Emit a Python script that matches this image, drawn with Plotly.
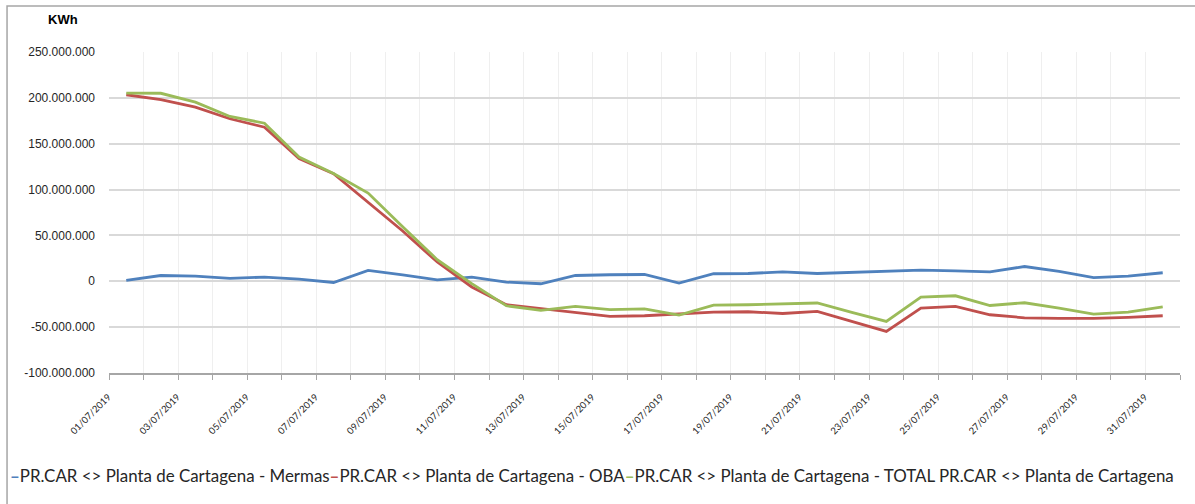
import plotly.graph_objects as go

# dates shown on the category axis
dates = [f"{d:02d}/07/2019" for d in range(1, 32)]

# KWh values
mermas = [
    0.9e6, 6.3e6, 5.7e6, 3.1e6, 4.6e6, 2.4e6, -1.3e6, 11.8e6, 7.1e6, 1.6e6,
    4.6e6, -0.9e6, -2.7e6, 6.3e6, 7.1e6, 7.4e6, -2.0e6, 8.2e6, 8.5e6, 10.3e6,
    8.5e6, 9.6e6, 10.7e6, 12.2e6, 11.4e6, 10.3e6, 16.1e6, 10.7e6, 4.1e6, 5.7e6,
    9.3e6,
]
oba = [
    203.4e6, 198.0e6, 189.9e6, 177.2e6, 168.0e6, 133.7e6, 117.3e6, 86.4e6, 54.8e6, 21.0e6,
    -6.2e6, -25.6e6, -30.0e6, -34.0e6, -38.3e6, -37.6e6, -35.4e6, -33.6e6, -33.2e6, -35.1e6,
    -32.9e6, -43.8e6, -54.7e6, -29.2e6, -27.4e6, -36.5e6, -39.8e6, -40.5e6, -40.5e6, -39.4e6,
    -37.6e6,
]
total = [
    205.1e6, 205.0e6, 195.3e6, 179.7e6, 172.4e6, 135.4e6, 117.6e6, 96.2e6, 59.4e6, 23.6e6,
    -2.5e6, -26.7e6, -31.8e6, -27.4e6, -31.0e6, -30.0e6, -36.8e6, -25.9e6, -25.6e6, -24.8e6,
    -23.7e6, -34.0e6, -43.8e6, -17.2e6, -15.8e6, -26.4e6, -23.4e6, -29.2e6, -35.7e6, -33.6e6,
    -27.8e6,
]

names = [
    "PR.CAR <> Planta de Cartagena - Mermas",
    "PR.CAR <> Planta de Cartagena - OBA",
    "PR.CAR <> Planta de Cartagena - TOTAL PR.CAR <> Planta de Cartagena",
]
colors = ["#4F81BD", "#C0504D", "#9BBB59"]

y_ticks = [-100e6, -50e6, 0, 50e6, 100e6, 150e6, 200e6, 250e6]
y_labels = ["-100.000.000", "-50.000.000", "0", "50.000.000", "100.000.000",
            "150.000.000", "200.000.000", "250.000.000"]

fig = go.Figure()
for name, vals, col in zip(names, [mermas, oba, total], colors):
    fig.add_trace(go.Scatter(x=dates, y=vals, name=name, mode="lines",
                             line=dict(color=col, width=2.8), showlegend=False))

# Excel-style legend: entries run together, tiny coloured dash before each
legend_text = "".join(
    f'<b><span style="color:{c}">–</span></b>{n}' for n, c in zip(names, colors)
)
fig.add_annotation(text=legend_text, xref="paper", yref="paper",
                   x=-0.0943, y=-0.318, xanchor="left", yanchor="middle",
                   showarrow=False, font=dict(family="Lato", size=16.9, color="#262626"))

fig.add_annotation(text="<b>KWh</b>", xref="paper", yref="paper",
                   x=-0.043, y=1.0997, xanchor="center", yanchor="middle",
                   showarrow=False, font=dict(family="Liberation Sans", size=13, color="#000"))

# outer chart frame (cropped on the right and bottom in the original)
fig.add_shape(type="rect", xref="paper", yref="paper",
              x0=-0.0952, x1=1.03, y0=-0.45, y1=1.1433,
              line=dict(color="#a6a6a6", width=1.5), layer="below")

fig.update_layout(
    width=1195, height=504,
    margin=dict(l=109, r=15, t=52, b=131),
    paper_bgcolor="white", plot_bgcolor="white",
    xaxis=dict(
        type="category", tickmode="array", tickvals=dates,
        ticktext=[d if i % 2 == 0 else "" for i, d in enumerate(dates)],
        tickson="boundaries", ticks="outside", ticklen=5, tickcolor="#a6a6a6",
        tickangle=-45, showgrid=True, gridcolor="#efefef", gridwidth=1,
        showline=True, linecolor="#a6a6a6", linewidth=1.5,
        range=[-0.5, 30.5], automargin=False,
        ticklabelshift=-18, ticklabelstandoff=13,
        tickfont=dict(family="Lato", size=9.5, color="#262626"),
    ),
    yaxis=dict(
        range=[-100e6, 250e6], tickmode="array", tickvals=y_ticks, ticktext=y_labels,
        showgrid=True, gridcolor="#d9d9d9", gridwidth=1.5, zeroline=False,
        showline=False, ticks="", ticklabelstandoff=13, automargin=False,
        tickfont=dict(family="Liberation Sans", size=12, color="#262626"),
    ),
)

# page body margin would push the chart 8px down/right
fig.write_html("out.html", config={"displayModeBar": False},
               post_script="document.body.style.margin='0';")
